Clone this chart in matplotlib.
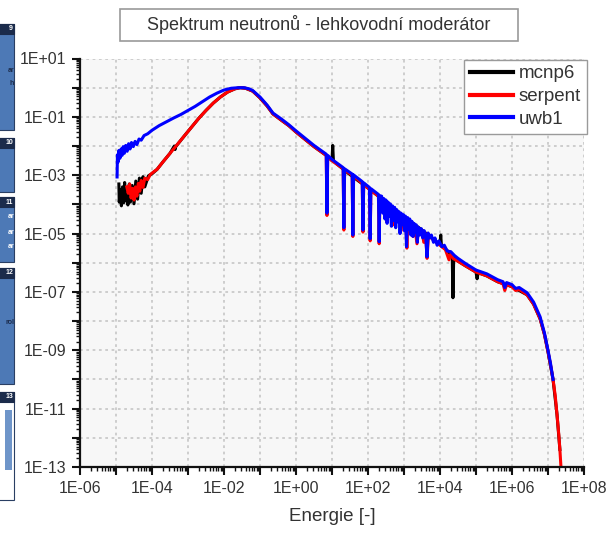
import matplotlib
matplotlib.use("Agg")
import matplotlib.pyplot as plt
import numpy as np
from matplotlib.patches import Rectangle
from matplotlib.ticker import LogLocator, NullFormatter

plt.rcParams['font.family'] = ['Liberation Sans', 'DejaVu Sans']

# values, as log10(energy) and log10(flux)
mcnp6_logE = [-4.92, -4.91, -4.88, -4.85, -4.82, -4.79, -4.76, -4.73, -4.70, -4.67,
              -4.63, -4.60, -4.55, -4.50, -4.45, -4.40, -4.35, -4.30, -4.25, -4.20,
              -4.10, -4.00, -3.86, -3.70, -3.50, -3.38, -3.36, -3.34, -3.10, -2.90,
              -2.70, -2.50, -2.30, -2.10, -1.90, -1.70, -1.55, -1.40, -1.20, -1.00,
              -0.80, -0.64, -0.40, -0.20, 0.00, 0.50, 0.84, 1.00, 1.02, 1.04,
              1.50, 2.00, 2.50, 3.00, 3.50, 4.00, 4.02, 4.04, 4.20, 4.34,
              4.36, 4.38, 4.70, 5.00, 5.03, 5.06, 5.30, 5.60, 6.00, 6.42,
              6.60, 6.78, 6.90, 7.00, 7.14, 7.25, 7.33]
mcnp6_logF = [-3.30, -3.92, -3.50, -4.05, -3.40, -3.95, -3.25, -3.88, -3.45, -4.02,
              -3.30, -3.92, -3.35, -3.98, -3.20, -3.82, -3.10, -3.62, -3.05, -3.40,
              -3.02, -2.95, -2.80, -2.55, -2.25, -2.00, -2.12, -2.02, -1.65, -1.35,
              -1.05, -0.78, -0.53, -0.32, -0.15, -0.04, 0.00, -0.02, -0.12, -0.35,
              -0.63, -0.90, -1.12, -1.30, -1.52, -2.02, -2.32, -2.50, -1.98, -2.52,
              -2.98, -3.44, -3.92, -4.42, -4.88, -5.38, -5.05, -5.42, -5.58, -5.80,
              -7.20, -5.85, -6.10, -6.32, -6.55, -6.34, -6.45, -6.65, -6.82, -7.10,
              -7.42, -7.92, -8.45, -9.05, -10.0, -11.2, -12.4]

serpent_logE = [-4.70, -4.66, -4.62, -4.58, -4.54, -4.50, -4.46, -4.42, -4.38, -4.34,
                -4.30, -4.25, -4.20, -4.12, -4.05, -3.95, -3.86, -3.70, -3.50, -3.30,
                -3.10, -2.90, -2.70, -2.50, -2.30, -2.10, -1.90, -1.70, -1.55, -1.40,
                -1.20, -1.00, -0.80, -0.64, -0.40, -0.20, 0.00, 0.50, 0.84, 0.86,
                0.88, 1.00, 1.31, 1.33, 1.35, 1.56, 1.58, 1.60, 1.84, 1.86,
                1.88, 2.04, 2.06, 2.08, 2.29, 2.31, 2.33, 2.45, 2.52, 2.56,
                2.65, 2.70, 2.74, 2.85, 2.92, 2.96, 3.05, 3.08, 3.11, 3.20,
                3.25, 3.30, 3.36, 3.40, 3.50, 3.55, 3.60, 3.64, 3.68, 3.80,
                3.90, 4.00, 4.15, 4.25, 4.30, 4.36, 4.50, 4.70, 5.00, 5.30,
                5.60, 5.75, 5.80, 5.85, 6.00, 6.10, 6.20, 6.42, 6.60, 6.78,
                6.90, 7.00, 7.07, 7.14, 7.20, 7.25, 7.30, 7.33, 7.36, 7.37]
serpent_logF = [-3.40, -3.62, -3.30, -3.78, -3.45, -3.85, -3.40, -3.72, -3.28, -3.55,
                -3.18, -3.42, -3.10, -3.15, -2.98, -2.88, -2.80, -2.55, -2.25, -1.95,
                -1.65, -1.35, -1.05, -0.78, -0.53, -0.32, -0.15, -0.04, 0.00, -0.02,
                -0.12, -0.35, -0.63, -0.90, -1.12, -1.30, -1.52, -2.02, -2.32, -4.38,
                -2.36, -2.50, -2.78, -4.88, -2.82, -3.00, -5.10, -3.03, -3.28, -4.95,
                -3.32, -3.48, -5.25, -3.52, -3.72, -5.35, -3.76, -3.95, -4.60, -4.00,
                -4.15, -4.70, -4.20, -4.35, -4.90, -4.45, -4.50, -5.50, -4.55, -4.65,
                -5.10, -4.75, -5.35, -4.85, -4.90, -5.30, -5.00, -5.85, -5.05, -5.20,
                -5.30, -5.40, -5.55, -5.90, -5.70, -5.85, -5.95, -6.10, -6.32, -6.45,
                -6.65, -6.72, -6.95, -6.75, -6.82, -6.95, -6.92, -7.10, -7.42, -7.92,
                -8.45, -9.05, -9.50, -10.0, -10.55, -11.2, -11.9, -12.4, -13.0, -13.5]

uwb1_logE = [-4.97, -4.96, -4.94, -4.92, -4.89, -4.86, -4.83, -4.80, -4.77, -4.73,
             -4.69, -4.65, -4.61, -4.57, -4.52, -4.47, -4.42, -4.36, -4.30, -4.22,
             -4.12, -4.00, -3.80, -3.60, -3.40, -3.20, -3.00, -2.80, -2.60, -2.40,
             -2.20, -2.00, -1.80, -1.60, -1.45, -1.30, -1.20, -1.00, -0.80, -0.64,
             -0.40, -0.20, 0.00, 0.50, 0.84, 0.86, 0.88, 1.00, 1.31, 1.33,
             1.35, 1.56, 1.58, 1.60, 1.84, 1.86, 1.88, 2.04, 2.06, 2.08,
             2.29, 2.31, 2.33, 2.38, 2.41, 2.44, 2.47, 2.50, 2.53, 2.56,
             2.59, 2.62, 2.65, 2.68, 2.71, 2.74, 2.77, 2.80, 2.83, 2.86,
             2.89, 2.92, 2.95, 2.98, 3.01, 3.04, 3.07, 3.10, 3.13, 3.16,
             3.19, 3.22, 3.25, 3.28, 3.31, 3.34, 3.37, 3.40, 3.44, 3.48,
             3.52, 3.56, 3.60, 3.64, 3.67, 3.72, 3.76, 3.82, 3.86, 3.92,
             3.97, 4.05, 4.12, 4.20, 4.30, 4.40, 4.50, 4.70, 5.00, 5.30,
             5.60, 5.75, 5.80, 5.85, 6.00, 6.10, 6.20, 6.42, 6.60, 6.78,
             6.90, 7.00, 7.07, 7.14]
uwb1_logF = [-3.06, -2.30, -2.55, -2.15, -2.42, -2.10, -2.32, -2.02, -2.25, -1.98,
             -2.18, -1.92, -2.10, -1.88, -2.02, -1.84, -1.95, -1.76, -1.80, -1.64,
             -1.58, -1.46, -1.30, -1.17, -1.04, -0.92, -0.78, -0.64, -0.48, -0.32,
             -0.19, -0.08, -0.02, 0.00, 0.00, -0.04, -0.10, -0.32, -0.60, -0.87,
             -1.08, -1.27, -1.48, -1.98, -2.28, -4.30, -2.32, -2.46, -2.74, -4.80,
             -2.78, -2.96, -5.05, -2.99, -3.22, -4.88, -3.26, -3.42, -5.18, -3.46,
             -3.66, -5.28, -3.70, -3.72, -4.30, -3.80, -4.50, -3.85, -4.65, -3.92,
             -4.40, -3.98, -4.75, -4.05, -4.55, -4.10, -4.80, -4.18, -4.60, -4.25,
             -5.00, -4.30, -4.70, -4.35, -4.90, -4.40, -5.45, -4.45, -4.85, -4.50,
             -5.05, -4.58, -5.10, -4.65, -4.95, -4.70, -5.30, -4.78, -5.05, -4.83,
             -5.15, -4.90, -5.05, -5.80, -4.98, -5.15, -5.05, -5.30, -5.15, -5.40,
             -5.25, -5.45, -5.40, -5.60, -5.62, -5.75, -5.85, -6.02, -6.25, -6.38,
             -6.58, -6.65, -6.85, -6.68, -6.75, -6.88, -6.85, -7.03, -7.35, -7.85,
             -8.40, -9.00, -9.45, -10.0]

fig = plt.figure(figsize=(6.09, 5.34), dpi=100)

# bits of the side panel cut off at the left edge of the screenshot
panel_tops = [24, 138, 197, 268, 392]
panel_bottoms = [130, 192, 262, 384, 500]
panel_labels = ["9", "10", "11", "12", "13"]
for top, bottom, lab in zip(panel_tops, panel_bottoms, panel_labels):
    body = '#ffffff' if lab == "13" else '#4d79b6'
    fig.add_artist(Rectangle((-4 / 609, 1 - bottom / 534), 18 / 609, (bottom - top) / 534,
                             transform=fig.transFigure, fc=body, ec='#2a3f63', lw=0.8))
    fig.add_artist(Rectangle((-4 / 609, 1 - (top + 10) / 534), 18 / 609, 10 / 534,
                             transform=fig.transFigure, fc='#1b2b4b', ec='#1b2b4b', lw=0.8))
    fig.text(13 / 609, 1 - (top + 5) / 534, lab, ha='right', va='center', fontsize=5,
             color='white', fontweight='bold')
fig.add_artist(Rectangle((5 / 609, 1 - 470 / 534), 7 / 609, 60 / 534,
                         transform=fig.transFigure, fc='#6f95c9', ec='none'))
fig.text(14 / 609, 1 - 70 / 534, "ar", ha='right', va='center', fontsize=5, color='#1b2b4b', fontweight='bold')
fig.text(14 / 609, 1 - 84 / 534, "h", ha='right', va='center', fontsize=5, color='#1b2b4b', fontweight='bold')
for yy in [217, 232, 247]:
    fig.text(14 / 609, 1 - yy / 534, "ar", ha='right', va='center', fontsize=5, color='white', fontweight='bold')
fig.text(14 / 609, 1 - 322 / 534, "rol", ha='right', va='center', fontsize=5, color='#1b2b4b', fontweight='bold')

# title in a box
fig.add_artist(Rectangle((120 / 609, 1 - 41 / 534), 398 / 609, 32 / 534,
                         transform=fig.transFigure, fc='white', ec='#9a9a9a', lw=1.2))
fig.text(319 / 609, 1 - 25 / 534, "Spektrum neutronů - lehkovodní moderátor",
         ha='center', va='center', fontsize=13, color='#333333')

ax = fig.add_axes([80 / 609, 67 / 534, 504 / 609, 408.5 / 534])
ax.set_facecolor('#f7f7f7')

ax.plot(10 ** np.array(mcnp6_logE), 10 ** np.array(mcnp6_logF), color='black', lw=2.2, label='mcnp6')
ax.plot(10 ** np.array(serpent_logE), 10 ** np.array(serpent_logF), color='red', lw=2.2, label='serpent')
ax.plot(10 ** np.array(uwb1_logE), 10 ** np.array(uwb1_logF), color='blue', lw=2.2, label='uwb1')

ax.set_xscale('log')
ax.set_yscale('log')
ax.set_xlim(1e-6, 1e8)
ax.set_ylim(1e-13, 1e1)

# ticks every decade, labels every second decade
xt = [10.0 ** k for k in range(-6, 9)]
xl = ["1E-06", "", "1E-04", "", "1E-02", "", "1E+00", "", "1E+02", "", "1E+04", "", "1E+06", "", "1E+08"]
yt = [10.0 ** k for k in range(-13, 2)]
yl = ["1E-13", "", "1E-11", "", "1E-09", "", "1E-07", "", "1E-05", "", "1E-03", "", "1E-01", "", "1E+01"]
ax.set_xticks(xt, xl)
ax.set_yticks(yt, yl)
ax.xaxis.set_minor_locator(LogLocator(base=10, subs=np.arange(2, 10), numticks=40))
ax.yaxis.set_minor_locator(LogLocator(base=10, subs=np.arange(2, 10), numticks=40))
ax.xaxis.set_minor_formatter(NullFormatter())
ax.yaxis.set_minor_formatter(NullFormatter())
ax.tick_params(which='major', direction='out', length=6, width=1.5, labelsize=11.5,
               colors='#111111', labelcolor='#333333', pad=4)
ax.tick_params(which='minor', direction='out', length=3, width=1.0, colors='#111111')

ax.grid(True, which='major', color='#cacaca', linestyle=(0, (1.5, 2)), lw=1.3)
ax.set_axisbelow(True)

for side in ['top', 'right']:
    ax.spines[side].set_visible(False)
for side in ['left', 'bottom']:
    ax.spines[side].set_linewidth(1.6)
    ax.spines[side].set_color('#111111')

ax.set_xlabel("Energie [-]", fontsize=13.5, color='#333333', labelpad=9)

leg = ax.legend(loc='upper right', bbox_to_anchor=(1.005, 0.997), fontsize=13.5,
                handlelength=2.3, handletextpad=0.3, labelspacing=0.3,
                borderpad=0.3, fancybox=False, framealpha=1, edgecolor='#9a9a9a',
                borderaxespad=0)
for line in leg.get_lines():
    line.set_linewidth(3)
for txt in leg.get_texts():
    txt.set_color('#333333')

plt.savefig("out.png", dpi=100)
